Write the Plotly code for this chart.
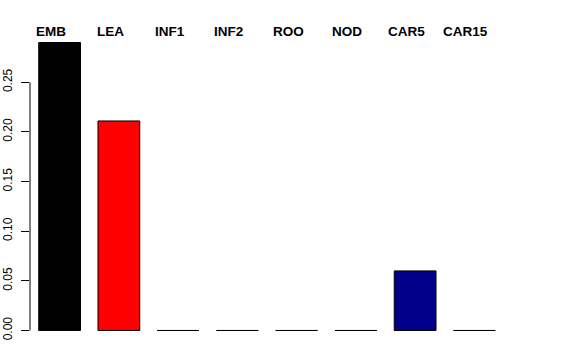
import plotly.graph_objects as go

categories = ["EMB", "LEA", "INF1", "INF2", "ROO", "NOD", "CAR5", "CAR15"]
values = [0.290, 0.211, 0.0, 0.0, 0.0, 0.0, 0.060, 0.0]
colors = ["#000000", "#FF0000", "#00CD00", "#0000FF", "#00CDCD", "#CD00CD", "#00008B", "#BEBEBE"]
y_ticks = [0.00, 0.05, 0.10, 0.15, 0.20, 0.25]
y_tick_labels = ["0.00", "0.05", "0.10", "0.15", "0.20", "0.25"]

fig = go.Figure()
fig.add_trace(go.Bar(
    x=categories, y=values,
    marker=dict(color=colors, line=dict(color="#000000", width=1)),
    hoverinfo="skip",
))

ymax = max(values)
pad = 0.04 * ymax

for c in categories:
    fig.add_annotation(
        x=c, y=1, xref="x", yref="paper", text="<b>%s</b>" % c,
        showarrow=False, yanchor="middle", xanchor="center",
        xshift=-8.5, yshift=0,
        font=dict(family="Liberation Sans, Arial, sans-serif", size=13.5, color="#000000"),
    )

# axis line spanning first to last tick (R style)
fig.add_shape(type="line", xref="paper", yref="y", x0=0, x1=0,
              y0=y_ticks[0], y1=y_ticks[-1], line=dict(color="#000000", width=1))

fig.update_layout(
    width=576, height=360,
    margin=dict(l=30, r=72, t=31, b=18, autoexpand=False),
    paper_bgcolor="white", plot_bgcolor="white",
    showlegend=False, bargap=0.295,
    font=dict(family="Liberation Sans, Arial, sans-serif", size=12, color="#000000"),
)
fig.update_xaxes(range=[-0.5, 7.5], showticklabels=False, showline=False,
                 showgrid=False, zeroline=False, ticks="", automargin=False)
fig.update_yaxes(range=[-pad, ymax + pad], tickvals=y_ticks, ticktext=y_tick_labels,
                 tickangle=-90, ticks="outside", ticklen=8, tickcolor="#000000",
                 tickwidth=1, showgrid=False, zeroline=False, showline=False,
                 ticklabelstandoff=4, automargin=False,
                 tickfont=dict(family="Liberation Sans, Arial, sans-serif", size=12, color="#000000"))

fig.write_html("out.html")
